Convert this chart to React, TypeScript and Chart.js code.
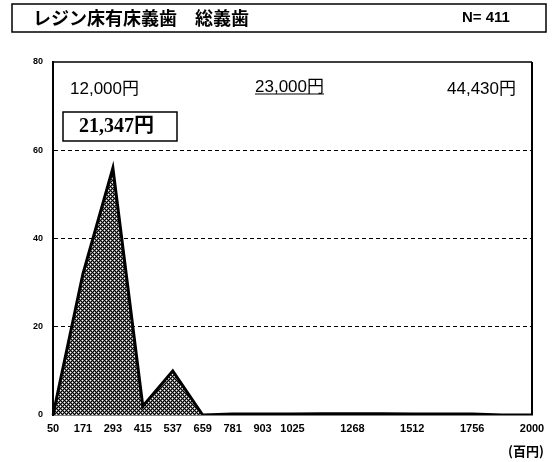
import React, { useEffect, useRef } from "react";
import { Chart, registerables } from "chart.js";

Chart.register(...registerables);

// ---- data ----
const binLabels = ["50", "171", "293", "415", "537", "659", "781", "903", "1025", "1146", "1268", "1390", "1512", "1634", "1756", "1878", "2000"];
const shownTicks = ["50", "171", "293", "415", "537", "659", "781", "903", "1025", "1268", "1512", "1756", "2000"];
const counts = [0, 32, 56, 2, 10, 0, 0.2, 0.2, 0.2, 0.3, 0.3, 0.3, 0.2, 0.2, 0.2, 0, 0];
const yMin = 0;
const yMax = 80;
const yStep = 20;
const titleText = "レジン床有床義歯　総義歯";
const nText = "N= 411";
const unitText = "(百円)";
const lowText = "12,000円";
const midText = "23,000円";
const highText = "44,430円";
const meanText = "21,347円";

const SANS = "'Liberation Sans', Arial, 'Noto Sans CJK JP', sans-serif";
const SERIF = "'Liberation Serif', 'Noto Sans CJK JP', serif";
const CJK = "'Noto Sans CJK JP', sans-serif";

const overlayPlugin = {
  id: "overlay",
  afterDraw(chart: any) {
    const { ctx, chartArea } = chart;
    ctx.save();
    // plot frame: top and right
    ctx.strokeStyle = "#000";
    ctx.setLineDash([]);
    ctx.lineWidth = 1.5;
    ctx.beginPath();
    ctx.moveTo(chartArea.left, chartArea.top);
    ctx.lineTo(chartArea.right, chartArea.top);
    ctx.stroke();
    ctx.lineWidth = 2;
    ctx.beginPath();
    ctx.moveTo(chartArea.right, chartArea.top);
    ctx.lineTo(chartArea.right, chartArea.bottom);
    ctx.stroke();

    // title box
    ctx.lineWidth = 1.5;
    ctx.strokeRect(12, 4, 534, 28);
    ctx.fillStyle = "#000";
    ctx.textBaseline = "middle";
    ctx.textAlign = "left";
    ctx.font = `bold 18px ${CJK}`;
    ctx.fillText(titleText, 33, 18);
    ctx.font = `bold 15px ${SANS}`;
    ctx.fillText(nText, 462, 18);

    // annotations
    ctx.font = `17px ${SANS}`;
    ctx.fillText(lowText, 70, 89);
    ctx.fillText(midText, 255, 87);
    const mw = ctx.measureText(midText).width;
    ctx.lineWidth = 1.2;
    ctx.beginPath();
    ctx.moveTo(255, 94);
    ctx.lineTo(255 + mw, 94);
    ctx.stroke();
    ctx.fillText(highText, 447, 89);

    ctx.lineWidth = 1.5;
    ctx.strokeRect(63, 112, 114, 29);
    ctx.font = `bold 20px ${SERIF}`;
    ctx.fillText(meanText, 79, 127);

    // unit
    ctx.font = `bold 13px ${CJK}`;
    ctx.fillText(unitText, 508, 451);
    ctx.restore();
  },
};

function makePattern(ctx: CanvasRenderingContext2D) {
  const tile = document.createElement("canvas");
  tile.width = 4;
  tile.height = 4;
  const t = tile.getContext("2d")!;
  t.fillStyle = "#fff";
  t.fillRect(0, 0, 4, 4);
  for (let y = 0; y < 4; y++) {
    for (let x = 0; x < 4; x++) {
      if ((x + y) % 4 === 0 || (x - y + 4) % 4 === 0) {
        t.fillStyle = "#000";
        t.fillRect(x, y, 1, 1);
      } else if ((x + y) % 2 === 1) {
        t.fillStyle = "#777";
        t.fillRect(x, y, 1, 1);
      }
    }
  }
  return ctx.createPattern(tile, "repeat");
}

export default function App() {
  const ref = useRef<HTMLCanvasElement | null>(null);
  useEffect(() => {
    const canvas = ref.current!;
    const ctx = canvas.getContext("2d")!;
    const pattern = makePattern(ctx);
    const chart = new Chart(canvas, {
      type: "line",
      data: {
        labels: binLabels,
        datasets: [
          {
            data: counts,
            fill: "origin",
            backgroundColor: pattern as any,
            borderColor: "#000",
            borderWidth: 3,
            borderJoinStyle: "miter",
            pointRadius: 0,
            tension: 0,
          },
        ],
      },
      options: {
        responsive: false,
        animation: false,
        devicePixelRatio: 1,
        layout: { padding: { top: 62, right: 26, left: 0, bottom: 0 } },
        plugins: { legend: { display: false }, tooltip: { enabled: false }, title: { display: false } },
        scales: {
          x: {
            type: "category",
            offset: false,
            grid: { display: false, drawTicks: false },
            border: { display: true, color: "#000", width: 1.5 },
            afterFit: (s: any) => {
              s.height = 47;
            },
            ticks: {
              autoSkip: false,
              maxRotation: 0,
              minRotation: 0,
              padding: 7,
              color: "#000",
              font: { family: SANS, size: 11, weight: "bold" },
              callback: (_v: any, i: number) => (shownTicks.includes(binLabels[i]) ? binLabels[i] : ""),
            },
          },
          y: {
            min: yMin,
            max: yMax,
            grid: {
              drawTicks: false,
              lineWidth: 1,
              color: (c: any) => (c.tick && c.tick.value > yMin && c.tick.value < yMax ? "#000" : "rgba(0,0,0,0)"),
            },
            border: { display: true, color: "#000", width: 2, dash: [4, 3] },
            afterFit: (s: any) => {
              s.width = 53;
            },
            ticks: {
              stepSize: yStep,
              padding: 10,
              color: "#000",
              font: { family: SANS, size: 9, weight: "bold" },
            },
          },
        },
      },
      plugins: [overlayPlugin],
    });
    return () => chart.destroy();
  }, []);
  return (
    <div style={{ position: "absolute", left: 0, top: 0, width: 558, height: 462, background: "#fff" }}>
      <canvas ref={ref} width={558} height={462} style={{ display: "block", width: 558, height: 462 }} />
    </div>
  );
}
